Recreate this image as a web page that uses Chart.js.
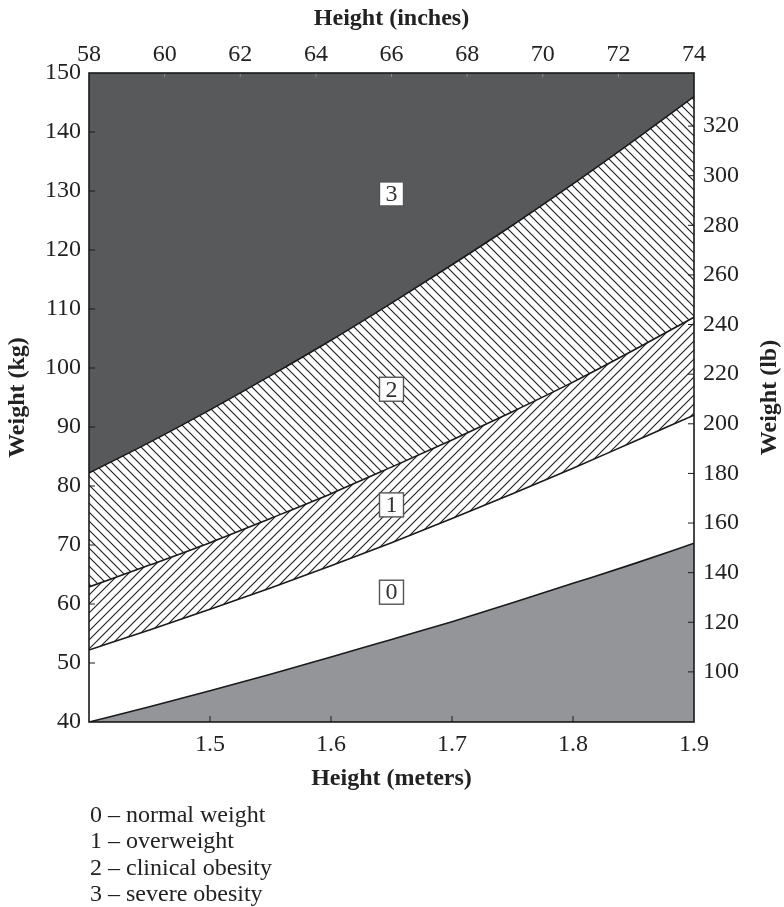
<!DOCTYPE html>
<html>
<head>
<meta charset="utf-8">
<script src="https://cdn.jsdelivr.net/npm/chart.js@4/dist/chart.umd.min.js"></script>
<style>
  html, body { margin: 0; padding: 0; background: #ffffff; }
  #wrap { position: relative; width: 784px; height: 907px; overflow: hidden; }
  #c { position: absolute; left: 0; top: 0; }
  #legend { position: absolute; left: 90px; top: 801px; font-family: "Liberation Serif", "Times New Roman", serif;
            font-size: 24px; line-height: 26.3px; color: #222; white-space: pre; }
</style>
</head>
<body>
<div id="wrap">
  <canvas id="c" width="784" height="907"></canvas>
  <div id="legend"></div>
</div>
<script>
// ---- data ----
const heightsM = [1.40, 1.45, 1.50, 1.55, 1.60, 1.65, 1.70, 1.75, 1.80, 1.85, 1.90];
// lower boundary of "normal weight" (top of grey underweight area), kg
const weightNormalMin = [40.0, 42.6, 45.3, 48.1, 51.0, 54.0, 57.0, 60.2, 63.5, 66.8, 70.3];
// lower boundary of "overweight", kg
const weightOverMin = [52.2, 55.6, 59.1, 62.7, 66.5, 70.4, 74.5, 78.7, 83.0, 87.5, 92.0];
// lower boundary of "clinical obesity", kg
const weightObeseMin = [62.9, 66.6, 70.4, 74.5, 78.7, 83.2, 87.8, 92.6, 97.6, 103.0, 108.6];
// lower boundary of "severe obesity", kg
const weightSevereMin = [82.2, 87.4, 92.9, 98.7, 104.7, 111.0, 117.5, 124.2, 131.2, 138.5, 146.0];

const meterTicks = [1.5, 1.6, 1.7, 1.8, 1.9];
const inchTicks = [58, 60, 62, 64, 66, 68, 70, 72, 74];
const kgTicks = [40, 50, 60, 70, 80, 90, 100, 110, 120, 130, 140, 150];
const lbTicks = [100, 120, 140, 160, 180, 200, 220, 240, 260, 280, 300, 320];

const zoneLabels = ['0', '1', '2', '3'];
const zoneLabelHeights = [1.65, 1.65, 1.65, 1.65];
const zoneLabelWeights = [62.0, 76.8, 96.4, 129.5];

const legendLines = ['0 – normal weight', '1 – overweight', '2 – clinical obesity', '3 – severe obesity'];

// ---- helpers ----
document.getElementById('legend').textContent = legendLines.join('\n');

const FONT = "'Liberation Serif', 'Times New Roman', serif";
const TXT = '#222222';
const DARK = '#58595b';
const LIGHT = '#939598';
const LINE = '#1a1a1a';

const canvas = document.getElementById('c');
const ctx = canvas.getContext('2d');

function hatch(dir) {
  const s = 9;
  const t = document.createElement('canvas');
  t.width = s; t.height = s;
  const g = t.getContext('2d');
  g.fillStyle = '#ffffff';
  g.fillRect(0, 0, s, s);
  g.strokeStyle = '#1e1e1e';
  g.lineWidth = 1.1;
  g.beginPath();
  for (let k = -1; k <= 1; k++) {
    if (dir === 'back') { g.moveTo(-1, k * s - 1); g.lineTo(s + 1, k * s + s + 1); }
    else { g.moveTo(-1, k * s + s + 1); g.lineTo(s + 1, k * s - 1); }
  }
  g.stroke();
  return ctx.createPattern(t, 'repeat');
}

const pts = arr => heightsM.map((h, i) => ({ x: h, y: arr[i] }));
const tickFont = { family: FONT, size: 24 };
const titleFont = { family: FONT, size: 24, weight: 'bold' };

const lineCommon = {
  xAxisID: 'x', yAxisID: 'y',
  pointRadius: 0, borderColor: LINE, borderWidth: 1.6,
  cubicInterpolationMode: 'monotone'
};

const decorPlugin = {
  id: 'decor',
  afterDatasetsDraw(chart) {
    const c = chart.ctx;
    const a = chart.chartArea;
    const sx = chart.scales.x, sxt = chart.scales.xTop, sy = chart.scales.y, syr = chart.scales.yRight;
    c.save();
    // inward tick marks
    c.strokeStyle = LINE;
    c.lineWidth = 1;
    const L = 6;
    c.beginPath();
    meterTicks.forEach(v => { const p = sx.getPixelForValue(v); if (p > a.left + 1 && p < a.right - 1) { c.moveTo(p, a.bottom); c.lineTo(p, a.bottom - L); } });
    kgTicks.forEach(v => { const p = sy.getPixelForValue(v); if (p > a.top + 1 && p < a.bottom - 1) { c.moveTo(a.left, p); c.lineTo(a.left + L, p); } });
    lbTicks.forEach(v => { const p = syr.getPixelForValue(v); if (p > a.top + 1 && p < a.bottom - 1) { c.moveTo(a.right, p); c.lineTo(a.right - L, p); } });
    c.stroke();
    c.strokeStyle = '#8a8a8a';
    c.beginPath();
    inchTicks.forEach(v => { const p = sxt.getPixelForValue(v); if (p > a.left + 1 && p < a.right - 1) { c.moveTo(p, a.top); c.lineTo(p, a.top + 4); } });
    c.stroke();
    // plot frame
    c.strokeStyle = LINE;
    c.lineWidth = 1.6;
    c.strokeRect(a.left, a.top, a.right - a.left, a.bottom - a.top);
    // zone labels in boxes
    zoneLabels.forEach((t, i) => {
      const px = sx.getPixelForValue(zoneLabelHeights[i]);
      const py = sy.getPixelForValue(zoneLabelWeights[i]);
      const w = 24, h = 24;
      c.fillStyle = '#ffffff';
      c.fillRect(px - w / 2, py - h / 2, w, h);
      c.strokeStyle = '#555555';
      c.lineWidth = 1.4;
      c.strokeRect(px - w / 2, py - h / 2, w, h);
      c.fillStyle = '#333333';
      c.font = '24px ' + FONT;
      c.textAlign = 'center';
      c.textBaseline = 'middle';
      c.fillText(t, px, py + 1);
    });
    // right axis title (reads bottom-to-top like the left one)
    c.translate(770, (a.top + a.bottom) / 2);
    c.rotate(-Math.PI / 2);
    c.fillStyle = TXT;
    c.font = 'bold 24px ' + FONT;
    c.textAlign = 'center';
    c.textBaseline = 'middle';
    c.fillText('Weight (lb)', 0, 0);
    c.restore();
  }
};

new Chart(ctx, {
  type: 'line',
  data: {
    datasets: [
      Object.assign({ data: pts(weightNormalMin), fill: 'start', backgroundColor: LIGHT }, lineCommon),
      Object.assign({ data: pts(weightOverMin), fill: false }, lineCommon),
      Object.assign({ data: pts(weightObeseMin), fill: 1, backgroundColor: hatch('fwd') }, lineCommon),
      Object.assign({ data: pts(weightSevereMin), fill: 2, backgroundColor: hatch('back') }, lineCommon),
      Object.assign({ data: pts(weightSevereMin), fill: 'end', backgroundColor: DARK }, lineCommon, { borderWidth: 0 })
    ]
  },
  options: {
    responsive: false,
    animation: false,
    devicePixelRatio: 1,
    layout: { padding: 0 },
    plugins: {
      legend: { display: false },
      tooltip: { enabled: false },
      filler: { propagate: false, drawTime: 'beforeDatasetsDraw' }
    },
    scales: {
      x: {
        type: 'linear', axis: 'x', position: 'bottom', min: 1.4, max: 1.9,
        afterBuildTicks: s => { s.ticks = meterTicks.map(v => ({ value: v })); },
        afterFit: s => { s.height = 185; },
        ticks: { font: tickFont, color: TXT, padding: 8, maxRotation: 0, autoSkip: false, callback: v => v.toFixed(1) },
        grid: { display: false, drawTicks: false },
        border: { display: false },
        title: { display: true, text: 'Height (meters)', font: titleFont, color: TXT, padding: { top: 0, bottom: 114 } }
      },
      xTop: {
        type: 'linear', axis: 'x', position: 'top', min: 58, max: 74,
        afterBuildTicks: s => { s.ticks = inchTicks.map(v => ({ value: v })); },
        afterFit: s => { s.height = 73; },
        ticks: { font: tickFont, color: TXT, padding: 3.5, maxRotation: 0, autoSkip: false, callback: v => String(v) },
        grid: { display: false, drawTicks: false },
        border: { display: false },
        title: { display: true, text: 'Height (inches)', font: titleFont, color: TXT, padding: { top: 4.5, bottom: 0 } }
      },
      y: {
        type: 'linear', axis: 'y', position: 'left', min: 40, max: 150,
        afterBuildTicks: s => { s.ticks = kgTicks.map(v => ({ value: v })); },
        afterFit: s => { s.width = 89; },
        ticks: { font: tickFont, color: TXT, padding: 8, autoSkip: false, callback: v => String(v) },
        grid: { display: false, drawTicks: false },
        border: { display: false },
        title: { display: true, text: 'Weight (kg)', font: titleFont, color: TXT, padding: { top: 3, bottom: 0 } }
      },
      yRight: {
        type: 'linear', axis: 'y', position: 'right', min: 79.8, max: 341.4,
        afterBuildTicks: s => { s.ticks = lbTicks.map(v => ({ value: v })); },
        afterFit: s => { s.width = 90; },
        ticks: { font: tickFont, color: TXT, padding: 9, autoSkip: false, callback: v => String(v) },
        grid: { display: false, drawTicks: false },
        border: { display: false },
        title: { display: false }
      }
    }
  },
  plugins: [decorPlugin]
});
</script>
</body>
</html>
